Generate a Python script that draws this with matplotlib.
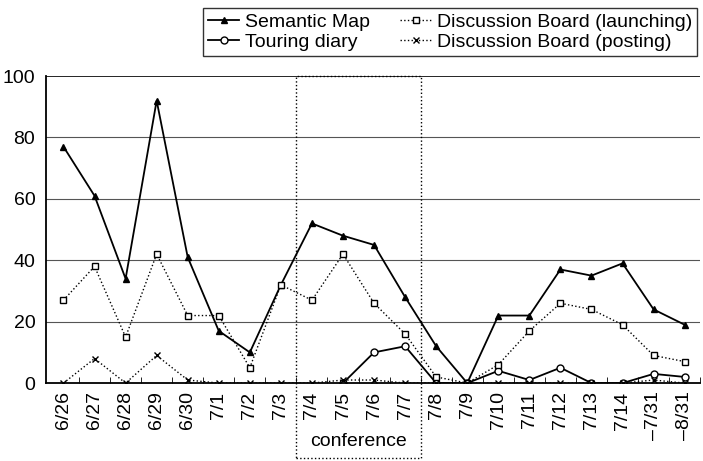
import numpy as np
import matplotlib
matplotlib.use('Agg')
import matplotlib.pyplot as plt
from matplotlib.patches import Rectangle
import matplotlib.transforms as mtransforms

dates = ['6/26', '6/27', '6/28', '6/29', '6/30', '7/1', '7/2', '7/3', '7/4', '7/5',
         '7/6', '7/7', '7/8', '7/9', '7/10', '7/11', '7/12', '7/13', '7/14',
         '\u20137/31', '\u20138/31']
semantic_map = [77, 61, 34, 92, 41, 17, 10, 32, 52, 48, 45, 28, 12, 0, 22, 22, 37, 35, 39, 24, 19]
board_launch = [27, 38, 15, 42, 22, 22, 5, 32, 27, 42, 26, 16, 2, 0, 6, 17, 26, 24, 19, 9, 7]
touring = [np.nan] * 9 + [0, 10, 12, 0, 0, 4, 1, 5, 0, 0, 3, 2]
board_post = [0, 8, 0, 9, 1, 0, 0, 0, 0, 1, 1, 0, 0, 0, 0, 0, 0, 0, 0, 1, 0]

plt.rcParams['font.family'] = ['Liberation Sans', 'DejaVu Sans']

fig = plt.figure(figsize=(7.03, 4.61), dpi=100)
ax = fig.add_axes([0.066, 0.169, 0.93, 0.666])
x = np.arange(len(dates))

for y in [20, 40, 60, 80, 100]:
    ax.axhline(y, color='#555555' if y < 100 else 'black', lw=0.8 if y < 100 else 1.2, zorder=0)

ax.plot(x, semantic_map, '-^', color='black', lw=1.3, ms=5, mfc='black', label='Semantic Map')
ax.plot(x, touring, '-o', color='black', lw=1.3, ms=5, mfc='white', label='Touring diary')
ax.plot(x, board_launch, ':s', color='black', lw=1.0, ms=5, mfc='white', label='Discussion Board (launching)')
ax.plot(x, board_post, ':x', color='black', lw=1.0, ms=5, label='Discussion Board (posting)')

ax.set_xlim(-0.55, 20.2)
ax.set_ylim(0, 100)
ax.set_yticks([0, 20, 40, 60, 80, 100])
ax.tick_params(axis='y', length=0, labelsize=14, pad=8)
ax.set_xticks(x)
ax.set_xticklabels(dates, rotation=90, fontsize=14)
ax.set_xticks(x + 0.5, minor=True)
ax.tick_params(axis='x', which='major', length=0, pad=6)
ax.tick_params(axis='x', which='minor', direction='in', length=4)
for s in ['top', 'right']:
    ax.spines[s].set_visible(False)
ax.spines['left'].set_linewidth(1.3)
ax.spines['bottom'].set_linewidth(1.3)

# conference box
trans = mtransforms.blended_transform_factory(ax.transData, ax.transAxes)
ax.add_patch(Rectangle((7.5, -0.245), 4, 1.245, transform=trans, fill=False,
                       ls=':', lw=1.0, color='black', clip_on=False))
ax.text(9.5, -0.19, 'conference', transform=trans, ha='center', va='center', fontsize=14)

leg = fig.legend(loc='upper left', bbox_to_anchor=(0.289, 0.876, 0.703, 0.106),
                 mode='expand', ncol=2, fontsize=14, handlelength=1.6, handletextpad=0.3,
                 labelspacing=0.15, borderpad=0.25, fancybox=False, edgecolor='black',
                 borderaxespad=0)
leg.get_frame().set_linewidth(1.0)

fig.savefig('out.png', dpi=100)
